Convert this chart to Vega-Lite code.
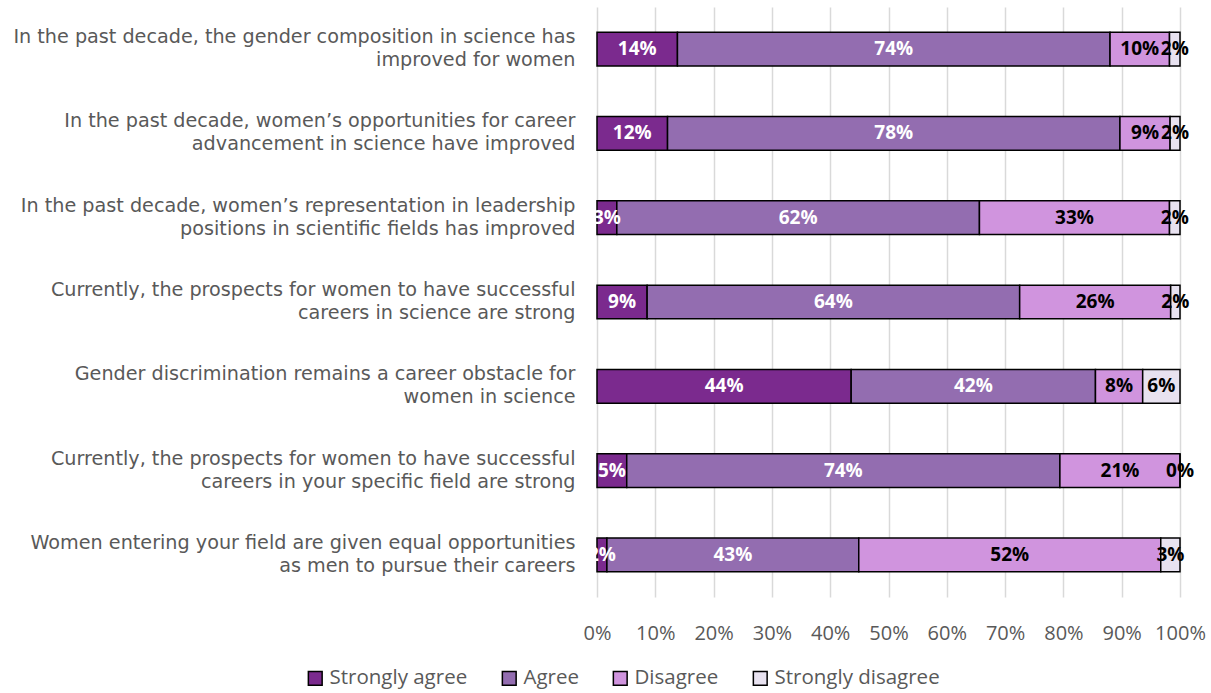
{
  "$schema": "https://vega.github.io/schema/vega-lite/v6.json",
  "autosize": {"type": "none"},
  "padding": {"left": 597, "top": 7, "right": 31, "bottom": 96},
  "width": 583,
  "height": 590,
  "background": "white",
  "config": {
    "font": "Open Sans, sans-serif",
    "view": {"stroke": null}
  },
  "data": {
    "values": [
      {"q": "In the past decade, the gender composition in science has|improved for women", "response": "Strongly agree", "value": 13.8},
      {"q": "In the past decade, the gender composition in science has|improved for women", "response": "Agree", "value": 74.2},
      {"q": "In the past decade, the gender composition in science has|improved for women", "response": "Disagree", "value": 10.2},
      {"q": "In the past decade, the gender composition in science has|improved for women", "response": "Strongly disagree", "value": 1.8},
      {"q": "In the past decade, women’s opportunities for career|advancement in science have improved", "response": "Strongly agree", "value": 12.1},
      {"q": "In the past decade, women’s opportunities for career|advancement in science have improved", "response": "Agree", "value": 77.6},
      {"q": "In the past decade, women’s opportunities for career|advancement in science have improved", "response": "Disagree", "value": 8.6},
      {"q": "In the past decade, women’s opportunities for career|advancement in science have improved", "response": "Strongly disagree", "value": 1.7},
      {"q": "In the past decade, women’s representation in leadership|positions in scientific fields has improved", "response": "Strongly agree", "value": 3.4},
      {"q": "In the past decade, women’s representation in leadership|positions in scientific fields has improved", "response": "Agree", "value": 62.2},
      {"q": "In the past decade, women’s representation in leadership|positions in scientific fields has improved", "response": "Disagree", "value": 32.6},
      {"q": "In the past decade, women’s representation in leadership|positions in scientific fields has improved", "response": "Strongly disagree", "value": 1.8},
      {"q": "Currently, the prospects for women to have successful|careers in science are strong", "response": "Strongly agree", "value": 8.6},
      {"q": "Currently, the prospects for women to have successful|careers in science are strong", "response": "Agree", "value": 63.9},
      {"q": "Currently, the prospects for women to have successful|careers in science are strong", "response": "Disagree", "value": 25.9},
      {"q": "Currently, the prospects for women to have successful|careers in science are strong", "response": "Strongly disagree", "value": 1.6},
      {"q": "Gender discrimination remains a career obstacle for|women in science", "response": "Strongly agree", "value": 43.6},
      {"q": "Gender discrimination remains a career obstacle for|women in science", "response": "Agree", "value": 41.9},
      {"q": "Gender discrimination remains a career obstacle for|women in science", "response": "Disagree", "value": 8.1},
      {"q": "Gender discrimination remains a career obstacle for|women in science", "response": "Strongly disagree", "value": 6.4},
      {"q": "Currently, the prospects for women to have successful|careers in your specific field are strong", "response": "Strongly agree", "value": 5.1},
      {"q": "Currently, the prospects for women to have successful|careers in your specific field are strong", "response": "Agree", "value": 74.3},
      {"q": "Currently, the prospects for women to have successful|careers in your specific field are strong", "response": "Disagree", "value": 20.6},
      {"q": "Currently, the prospects for women to have successful|careers in your specific field are strong", "response": "Strongly disagree", "value": 0},
      {"q": "Women entering your field are given equal opportunities|as men to pursue their careers", "response": "Strongly agree", "value": 1.7},
      {"q": "Women entering your field are given equal opportunities|as men to pursue their careers", "response": "Agree", "value": 43.2},
      {"q": "Women entering your field are given equal opportunities|as men to pursue their careers", "response": "Disagree", "value": 51.8},
      {"q": "Women entering your field are given equal opportunities|as men to pursue their careers", "response": "Strongly disagree", "value": 3.3}
    ]
  },
  "transform": [
    {"calculate": "indexof(['Strongly agree','Agree','Disagree','Strongly disagree'], datum.response)", "as": "ord"},
    {"stack": "value", "groupby": ["q"], "sort": [{"field": "ord", "order": "ascending"}], "as": ["x0", "x1"]},
    {"calculate": "(datum.x0 + datum.x1) / 2", "as": "mid"},
    {"calculate": "format(datum.value / 100, '.0%')", "as": "lbl"}
  ],
  "encoding": {
    "y": {
      "field": "q",
      "type": "nominal",
      "sort": null,
      "scale": {"paddingInner": 0.6, "paddingOuter": 0.3},
      "axis": {
        "title": null,
        "domain": false,
        "ticks": false,
        "labelPadding": 22,
        "labelOffset": -12,
        "labelLimit": 700,
        "labelFont": "DejaVu Sans",
        "labelFontSize": 19.2,
        "labelColor": "#595959",
        "labelLineHeight": 23,
        "labelExpr": "split(datum.label, '|')"
      }
    }
  },
  "layer": [
    {
      "mark": {"type": "bar", "stroke": "black", "strokeWidth": 1.5},
      "encoding": {
        "x": {
          "field": "x0",
          "type": "quantitative",
          "scale": {"domain": [0, 100], "nice": false},
          "axis": {
            "title": null,
            "values": [0, 10, 20, 30, 40, 50, 60, 70, 80, 90, 100],
            "labelExpr": "datum.value + '%'",
            "domain": false,
            "ticks": false,
            "grid": true,
            "gridColor": "#d9d9d9",
            "gridWidth": 1.5,
            "labelPadding": 26,
            "labelFontSize": 20,
            "labelColor": "#595959",
            "labelFlush": false
          }
        },
        "x2": {"field": "x1"},
        "color": {
          "field": "response",
          "type": "nominal",
          "scale": {
            "domain": ["Strongly agree", "Agree", "Disagree", "Strongly disagree"],
            "range": ["#7B2A8E", "#936DB0", "#D094DE", "#E8E2F0"]
          },
          "legend": {
            "title": null,
            "orient": "none",
            "direction": "horizontal",
            "legendX": -292,
            "legendY": 661,
            "symbolType": "square",
            "symbolSize": 190,
            "symbolStrokeColor": "black",
            "symbolStrokeWidth": 1.5,
            "symbolOpacity": 1,
            "labelFontSize": 20.5,
            "labelColor": "#595959",
            "labelOffset": 4,
            "columnPadding": 31,
            "labelLimit": 300
          }
        }
      }
    },
    {
      "mark": {"type": "text", "fontSize": 19, "fontWeight": "bold", "align": "center", "baseline": "middle"},
      "encoding": {
        "x": {"field": "mid", "type": "quantitative"},
        "text": {"field": "lbl", "type": "nominal"},
        "color": {
          "condition": {"test": "datum.ord < 2", "value": "white"},
          "value": "black"
        }
      }
    }
  ]
}
